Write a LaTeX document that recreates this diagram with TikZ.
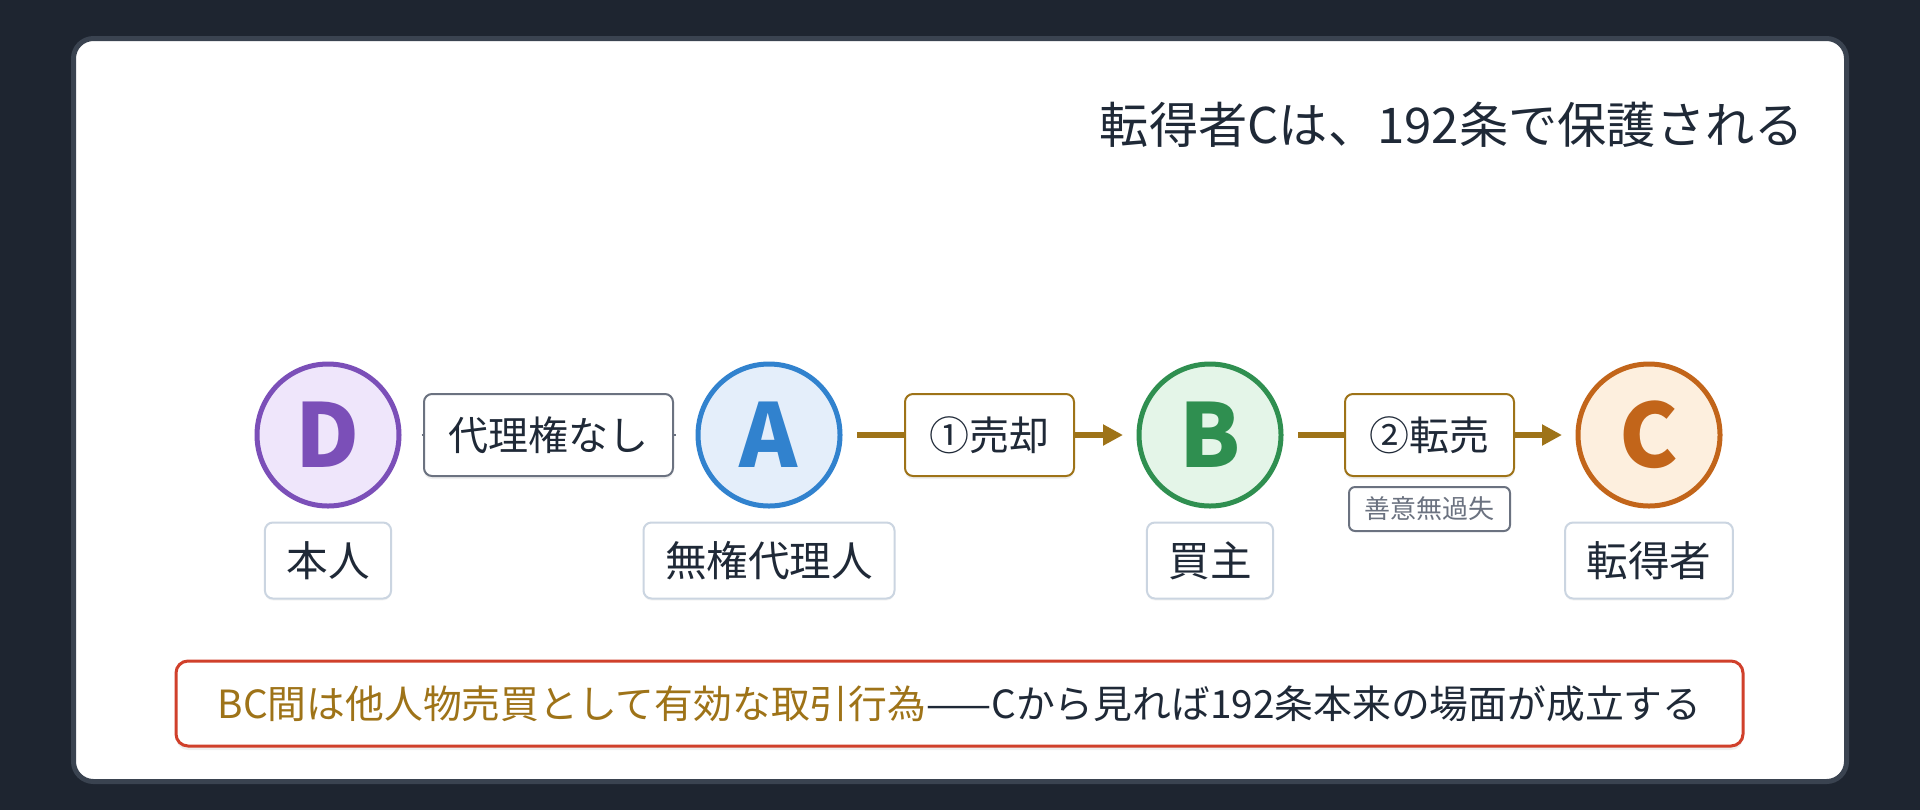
\documentclass[tikz,border=0pt]{standalone}
\usepackage{fontspec}
\newfontfamily\jp{Noto Sans CJK JP}
\usetikzlibrary{positioning,arrows.meta,shadows}

\definecolor{bg}{RGB}{30,37,48}
\definecolor{cardline}{RGB}{58,67,80}
\definecolor{ink}{RGB}{31,41,55}
\definecolor{slate}{RGB}{107,114,128}
\definecolor{rolegray}{RGB}{203,213,225}
\definecolor{gold}{RGB}{158,115,24}
\definecolor{alert}{RGB}{208,64,43}
\definecolor{dpurple}{RGB}{123,79,184}
\definecolor{dpurplebg}{RGB}{239,230,251}
\definecolor{ablue}{RGB}{49,130,206}
\definecolor{abluebg}{RGB}{228,238,250}
\definecolor{bgreen}{RGB}{47,143,80}
\definecolor{bgreenbg}{RGB}{228,245,232}
\definecolor{corange}{RGB}{194,101,26}
\definecolor{corangebg}{RGB}{253,239,222}

\begin{document}
\begin{tikzpicture}[
	x=0.5pt, y=-0.5pt,
	every node/.style = {font=\jp, text=ink},
	party/.style 2 args = {circle, draw=#1, fill=#2, text=#1, line width=2.5pt, minimum size=71pt, inner sep=0pt, font=\jp\fontsize{44}{44}\selectfont\bfseries},
	role/.style = {draw=rolegray, fill=white, line width=1pt, rounded corners=4pt, minimum height=38pt, inner xsep=10.75pt, font=\jp\fontsize{20.8}{24}\selectfont, drop shadow={shadow xshift=0pt, shadow yshift=-1pt, opacity=0.08}},
	deal/.style = {draw=#1, fill=white, line width=1pt, rounded corners=4pt, minimum height=41pt, inner xsep=12.25pt, font=\jp\fontsize{20}{24}\selectfont, drop shadow={shadow xshift=0pt, shadow yshift=-1.5pt, opacity=0.12}},
	tag/.style = {draw=slate, fill=white, line width=1pt, rounded corners=3pt, minimum height=22pt, inner xsep=7.75pt, text=slate, font=\jp\fontsize{13}{16}\selectfont},
	tie/.style = {draw=slate, line width=1.25pt, shorten <=10pt, shorten >=10pt},
	flow/.style = {draw=gold, line width=3pt, -{Triangle[length=10pt, width=10pt]}, shorten <=7.25pt, shorten >=6.75pt}
	]
	
	% Background and card
	\fill[bg] (0,0) rectangle (1920,810);
	\draw[cardline, fill=white, line width=2.5pt, rounded corners=10pt] (73.5,38.5) rectangle (1846.5,781.5);
	
	% Title
	\node[anchor=east, inner sep=0pt, font=\jp\fontsize{24.6}{28}\selectfont] (title) at (1804,125) {転得者Cは、192条で保護される};
	
	% Parties
	\foreach \who/\ink/\tint/\x in {D/dpurple/dpurplebg/328, A/ablue/abluebg/769, B/bgreen/bgreenbg/1210, C/corange/corangebg/1649}
	\node[party={\ink}{\tint}] (\who) at (\x,435) {\who};
	
	% Roles
	\foreach \who/\name in {D/本人, A/無権代理人, B/買主, C/転得者}
	\node[role, below=6.5pt of \who] (\who-role) {\name};
	
	% Dealings
	\draw[tie] (D) -- node[deal=slate] (noauth) {代理権なし} (A);
	\draw[flow] (A) -- node[deal=gold] (sale1) {①売却} (B);
	\draw[flow] (B) -- node[deal=gold] (sale2) {②転売} (C);
	\node[tag, below=4.5pt of sale2] (good) {善意無過失};
	
	% Conclusion
	\node[draw=alert, fill=white, line width=1.5pt, rounded corners=6pt, minimum width=783.5pt, minimum height=42.5pt, font=\jp\fontsize{19.4}{23}\selectfont, drop shadow={shadow xshift=0pt, shadow yshift=-2pt, opacity=0.12}] (note) at (959.5,703.5) {\textcolor{gold}{BC間は他人物売買として有効な取引行為}——Cから見れば192条本来の場面が成立する};
	
\end{tikzpicture}
\end{document}
